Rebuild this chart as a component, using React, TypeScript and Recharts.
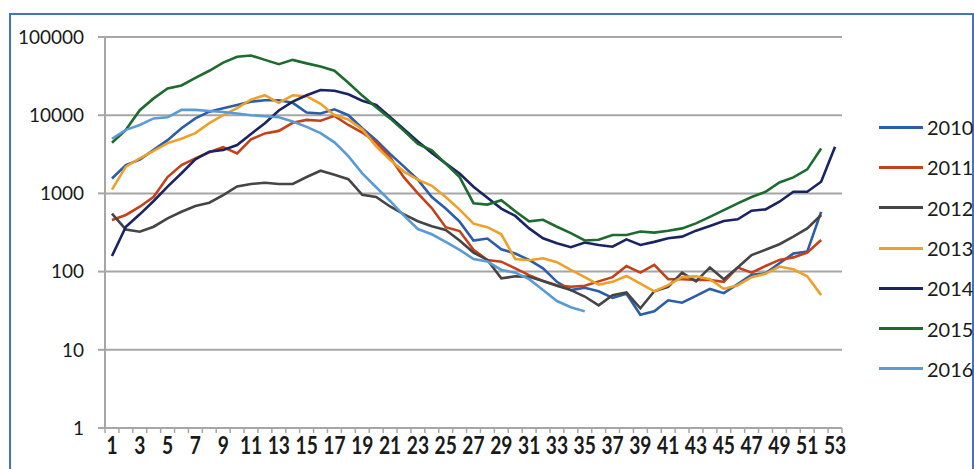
import { LineChart, Line, XAxis, YAxis, CartesianGrid } from "recharts";

const weeks = [
  1, 2, 3, 4, 5, 6, 7, 8, 9, 10, 11, 12, 13, 14, 15, 16, 17, 18, 19, 20, 21, 22, 23, 24, 25, 26, 27,
  28, 29, 30, 31, 32, 33, 34, 35, 36, 37, 38, 39, 40, 41, 42, 43, 44, 45, 46, 47, 48, 49, 50, 51, 52, 53,
];

const yTicks = [1, 10, 100, 1000, 10000, 100000];

const years = ["2010", "2011", "2012", "2013", "2014", "2015", "2016"];

const s2010 = [
  1550, 2300, 2700, 3600, 4800, 6800, 9100, 11100, 12300, 13500, 14900, 15500, 15500, 14400, 10800, 10500,
  11900, 10000, 6800, 4800, 3200, 2200, 1500, 900, 640, 435, 250, 265, 193, 170, 141, 110, 74, 58, 62, 56,
  46, 52, 28, 31, 43, 40, 49, 60, 53, 69, 91, 95, 128, 170, 180, 580,
];
const s2011 = [
  457, 530, 676, 905, 1620, 2300, 2800, 3360, 3900, 3250, 4900, 5850, 6300, 8000, 8700, 8500, 9800, 7500,
  6000, 4500, 2900, 1600, 1000, 650, 370, 330, 190, 141, 134, 110, 90, 76, 67, 64, 66, 75, 85, 118, 97, 122,
  80, 80, 78, 78, 74, 113, 97, 118, 141, 152, 175, 253,
];
const s2012 = [
  550, 346, 324, 375, 480, 583, 690, 760, 950, 1230, 1320, 1370, 1320, 1320, 1620, 1950, 1730, 1520, 960,
  900, 680, 540, 440, 380, 340, 250, 175, 141, 82, 87, 86, 76, 66, 58, 48, 37, 50, 54, 34, 56, 64, 97, 75,
  113, 80, 113, 163, 190, 224, 280, 357, 530,
];
const s2013 = [
  1120, 2200, 2800, 3500, 4400, 5000, 5900, 7900, 10000, 12300, 15800, 18000, 14400, 18000, 17500, 14000,
  10000, 8800, 6600, 4000, 2700, 1900, 1500, 1250, 900, 620, 410, 370, 300, 145, 140, 148, 132, 105, 85, 68,
  74, 88, 70, 56, 67, 85, 87, 80, 60, 67, 85, 94, 116, 107, 87, 50,
];
const s2014 = [
  158, 375, 540, 800, 1220, 1810, 2730, 3420, 3590, 4160, 5750, 7900, 11500, 14900, 18000, 21000, 20500,
  18500, 15300, 13500, 9500, 6600, 4600, 3300, 2420, 1800, 1220, 880, 640, 515, 357, 267, 230, 205, 235, 219,
  208, 258, 219, 240, 267, 280, 334, 383, 443, 466, 600, 625, 783, 1050, 1050, 1410, 3950,
];
const s2015 = [
  4450, 6500, 11600, 16400, 22000, 24000, 30000, 37000, 47000, 56000, 58000, 51000, 45000, 51000, 46000,
  42000, 37000, 26000, 17800, 12600, 9100, 6300, 4300, 3550, 2400, 1620, 750, 720, 820, 590, 440, 460, 375,
  310, 250, 255, 294, 294, 325, 315, 333, 357, 414, 500, 610, 745, 900, 1050, 1380, 1600, 2030, 3750,
];
const s2016 = [
  5000, 6500, 7500, 9100, 9400, 11700, 11700, 11300, 11000, 10500, 10000, 9700, 9400, 8300, 7100, 5900,
  4500, 3000, 1800, 1200, 800, 520, 350, 300, 240, 190, 145, 135, 105, 97, 80, 58, 42, 35, 31,
];

const series = [s2010, s2011, s2012, s2013, s2014, s2015, s2016];
const colors = ["#2B5DA8", "#C4421A", "#454545", "#EDA02A", "#1B2463", "#1E6B30", "#5A9BD5"];

const data = weeks.map((w, i) => {
  const row: Record<string, number | undefined> = { week: w };
  years.forEach((y, k) => {
    row[y] = series[k][i];
  });
  return row;
});

// tick marks sit between weeks, labels on odd weeks
const xTicks = [0.5, ...weeks.map((w) => w + 0.5), ...weeks.filter((w) => w % 2 === 1)].sort((a, b) => a - b);

const XTick = (props: any) => {
  const { x, y, payload } = props;
  const v = payload.value;
  if (!Number.isInteger(v)) {
    return <line x1={x} x2={x} y1={y} y2={y + 5} stroke="#A6A6A6" strokeWidth={1.5} />;
  }
  return (
    <text
      transform={`translate(${x},${y + 26}) scale(0.8,1)`}
      textAnchor="middle"
      fontFamily="Lato"
      fontWeight="bold"
      fontSize={24}
      fill="#1a1a1a"
    >
      {v}
    </text>
  );
};

export default function App() {
  return (
    <div style={{ position: "absolute", left: 0, top: 0, width: 974, height: 469, background: "#fff", overflow: "hidden" }}>
      <div
        style={{
          position: "absolute",
          left: 9,
          top: 13,
          width: 961,
          height: 470,
          border: "2px solid #4472C4",
        }}
      />
      <LineChart width={974} height={469} data={data} margin={{ top: 37, right: 132, bottom: 0, left: 0 }}>
        <CartesianGrid vertical={false} stroke="#A6A6A6" strokeWidth={2} />
        <XAxis
          dataKey="week"
          type="number"
          domain={[0.5, 53.5]}
          ticks={xTicks}
          interval={0}
          tick={<XTick />}
          tickLine={false}
          tickSize={0}
          tickMargin={0}
          height={41}
          stroke="#A6A6A6"
          strokeWidth={2}
        />
        <YAxis
          scale="log"
          domain={[1, 100000]}
          ticks={yTicks}
          interval={0}
          allowDataOverflow
          width={105}
          tickSize={7}
          tickMargin={14}
          stroke="#A6A6A6"
          strokeWidth={2}
          tick={{ fill: "#1a1a1a", fontFamily: "Lato", fontSize: 19 }}
        />
        {years.map((y, k) => (
          <Line
            key={y}
            dataKey={y}
            stroke={colors[k]}
            strokeWidth={2.6}
            dot={false}
            type="linear"
            isAnimationActive={false}
          />
        ))}
      </LineChart>
      <div style={{ position: "absolute", left: 879, top: 107 }}>
        {years.map((y, k) => (
          <div key={y} style={{ display: "flex", alignItems: "center", height: 40.3 }}>
            <div style={{ width: 44, height: 3, background: colors[k] }} />
            <span style={{ marginLeft: 4, fontFamily: "Lato", fontSize: 20, color: "#1a1a1a" }}>{y}</span>
          </div>
        ))}
      </div>
    </div>
  );
}
